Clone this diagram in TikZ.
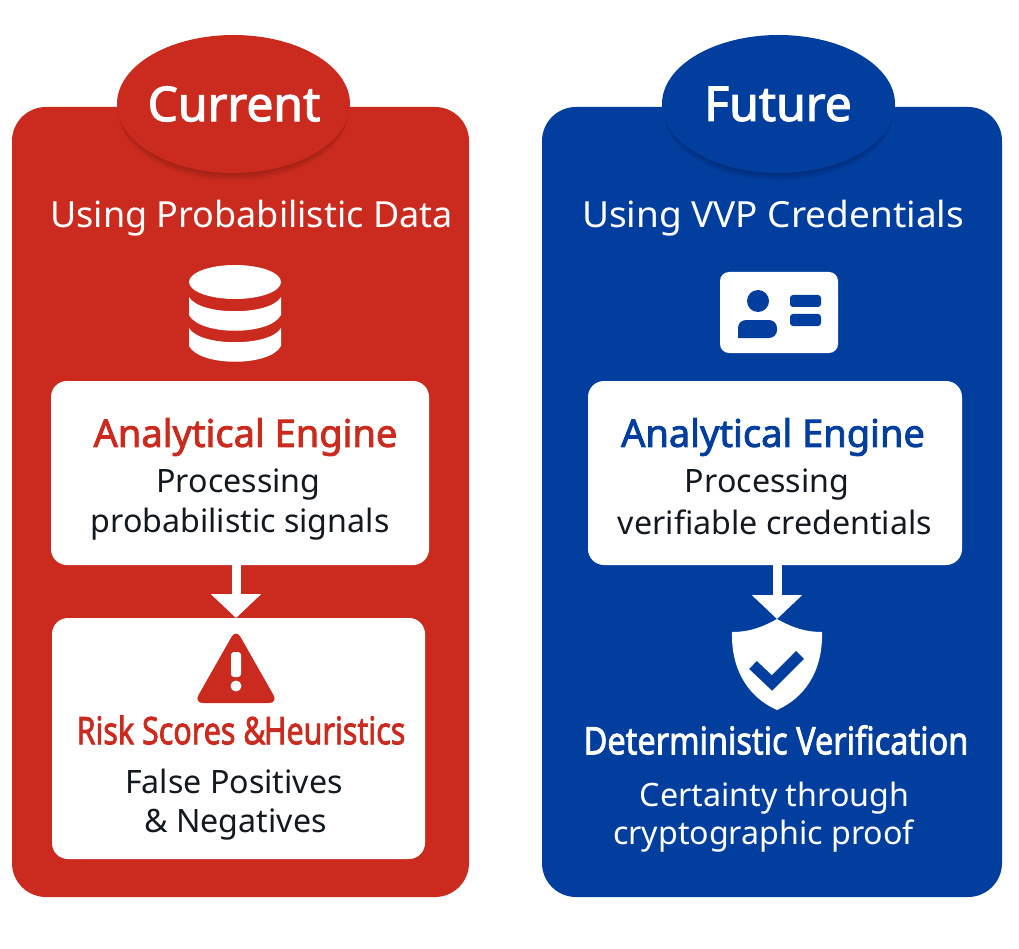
\documentclass[tikz,border=0pt]{standalone}
\usepackage{fontspec}
\setmainfont{Noto Sans}
\newfontfamily\titlefont{Noto Sans}[FakeBold=2.2]
\usetikzlibrary{arrows.meta}
\definecolor{panelred}{HTML}{CB2A1E}
\definecolor{panelblue}{HTML}{023E9E}
\definecolor{inkdark}{HTML}{14181F}

\begin{document}
\begin{tikzpicture}[x=1pt,y=-1pt,
    panel/.style={rounded corners=34pt},
    badge/.style={text=white, font=\fontsize{48}{50}\selectfont\titlefont},
    whitebox/.style={fill=white, rounded corners=16pt, inner sep=0pt},
    heading/.style={text=white, font=\fontsize{36}{40}\selectfont},
    boxtitle/.style={font=\fontsize{38}{40}\selectfont\titlefont},
    boxtext/.style={text=inkdark, font=\fontsize{32.2}{36}\selectfont},
    lighttext/.style={text=white, font=\fontsize{32.2}{36}\selectfont},
    flowarrow/.style={white, line width=9pt, -{Triangle[width=49pt,length=24pt]}}]
  \useasboundingbox (0,0) rectangle (1019,949);
  \fill[white] (0,0) rectangle (1019,949);

  % Panels
  \fill[panelred, panel] (12,107) rectangle (469,897);
  \fill[panelblue, panel] (542,107) rectangle (1002,897);

  % Badge shadows
  \foreach \s in {1,...,8} {
    \fill[black, opacity=0.022] (233.5,104+\s) ellipse (115 and 69);
    \fill[black, opacity=0.022] (778.5,104+\s) ellipse (115 and 69);
  }

  % Badges
  \fill[panelred] (233.5,104) ellipse (116.5 and 69);
  \fill[panelblue] (778.5,104) ellipse (116.5 and 69);
  \node[badge] (badgered) at (234,104) {Current};
  \node[badge] (badgeblue) at (778,104) {Future};

  % Headings
  \node[heading] (headred) at (251.5,218) {Using Probabilistic Data};
  \node[heading] (headblue) at (773,218) {\scalebox{1.027}[1]{Using VVP Credentials}};

  % Database icon
  \fill[white] (235,282) ellipse (46 and 17);
  \fill[white] (189,297) .. controls (200,316) and (270,316) .. (281,297) -- (281,315)
    .. controls (270,336) and (200,336) .. (189,315) -- cycle;
  \fill[white] (189,328) .. controls (200,347) and (270,347) .. (281,328) -- (281,346)
    .. controls (270,367) and (200,367) .. (189,346) -- cycle;

  % Card icon
  \fill[white, rounded corners=9pt] (720,272) rectangle (838,353);
  \fill[panelblue] (758,301) circle (11);
  \fill[panelblue, rounded corners=8pt] (738,338) -- (738,320) -- (777,320) -- (777,338) [sharp corners] -- cycle;
  \fill[panelblue, rounded corners=3pt] (790,295) rectangle (821,307);
  \fill[panelblue, rounded corners=3pt] (790,314) rectangle (821,326);

  % White boxes
  \node[whitebox, minimum width=378pt, minimum height=184pt] (enginered) at (240,473) {};
  \node[whitebox, minimum width=374pt, minimum height=184pt] (engineblue) at (775,473) {};
  \node[whitebox, minimum width=373pt, minimum height=241pt] (riskred) at (238.5,738.5) {};

  % Box texts
  \node[boxtitle, text=panelred] (titlered) at (245.5,437) {Analytical Engine};
  \node[boxtext] (procred) at (238.5,484) {Processing};
  \node[boxtext] (sigred) at (240,524) {probabilistic signals};
  \node[boxtitle, text=panelblue] (titleblue) at (773,437) {Analytical Engine};
  \node[boxtext] (procblue) at (767,484) {Processing};
  \node[boxtext] (sigblue) at (775,522) {verifiable credentials};

  % Arrows
  \coordinate (tipred) at (236,618);
  \coordinate (tipblue) at (777,619);
  \draw[flowarrow] (tipred |- enginered.south) -- (tipred);
  \draw[flowarrow] (tipblue |- engineblue.south) -- (tipblue);

  % Alert icon
  \fill[panelred, rounded corners=9pt] (236,629) -- (278,703) -- (194,703) -- cycle;
  \fill[white, rounded corners=3pt] (231,652) rectangle (241,677);
  \fill[white] (236,686) circle (5.5);

  % Shield icon
  \fill[white] (777,619) .. controls (761,628) and (748,632) .. (732,632)
    .. controls (731,672) and (750,698) .. (777,710)
    .. controls (804,698) and (823,672) .. (822,632)
    .. controls (806,632) and (793,628) .. (777,619) -- cycle;
  \draw[panelblue, line width=11pt] (753,665) -- (772,683) -- (800,655);

  % Lower texts
  \node[boxtitle, text=panelred] (riskname) at (241,730) {\scalebox{0.8}[1]{Risk Scores \&\kern-2pt Heuristics}};
  \node[boxtext] (falsepos) at (234,781) {False Positives};
  \node[boxtext] (falseneg) at (235.5,824) {\& Negatives};
  \node[boxtitle, text=white] (detname) at (776,740) {\scalebox{0.855}[1]{Deterministic Verification}};
  \node[lighttext] (certain) at (774.5,798) {Certainty through};
  \node[lighttext] (cryptproof) at (763.5,836) {cryptographic proof};
\end{tikzpicture}
\end{document}
